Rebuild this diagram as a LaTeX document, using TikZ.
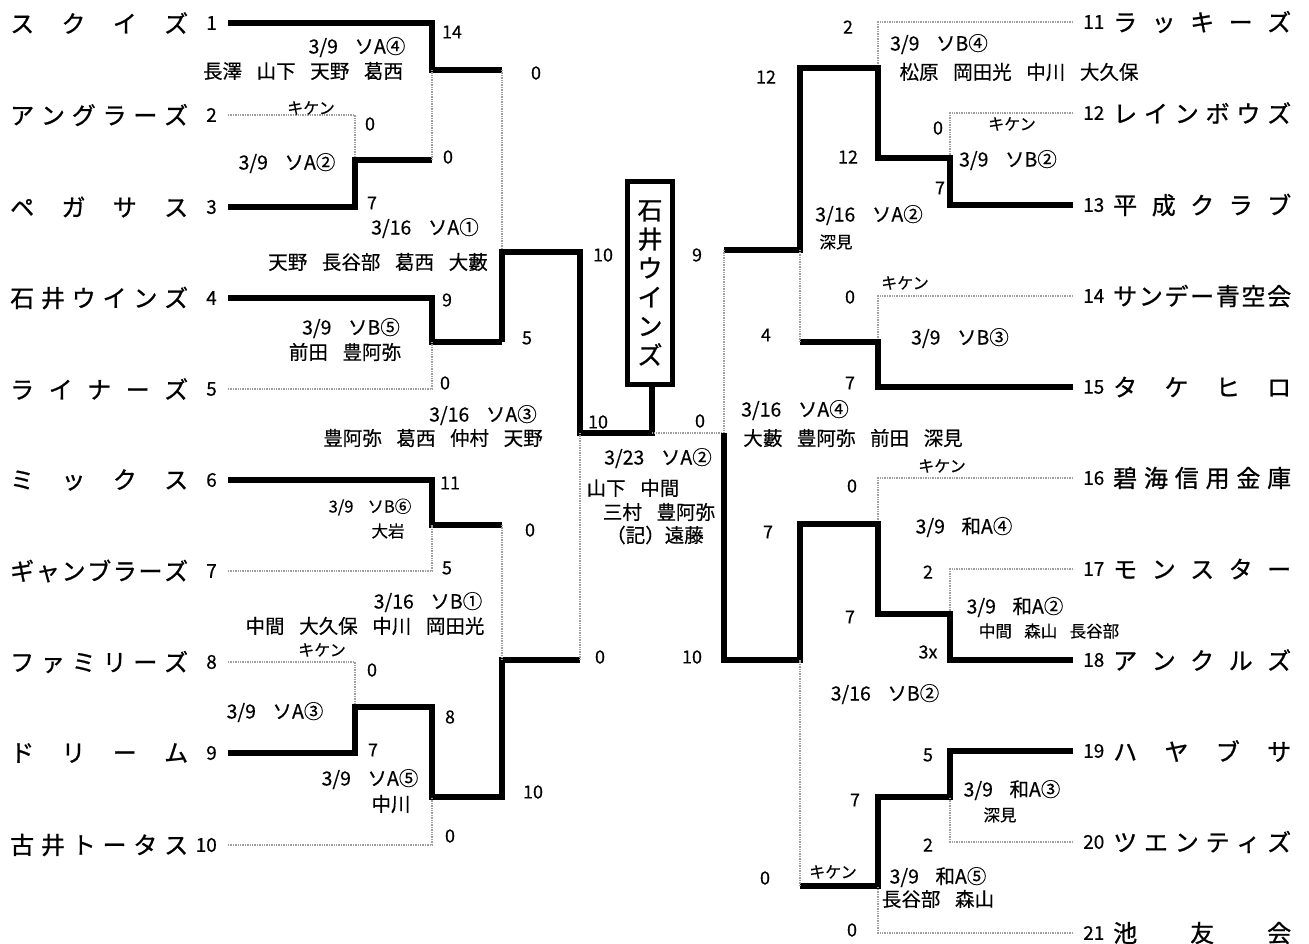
\documentclass[tikz,border=0pt]{standalone}
\usepackage{fontspec}
\setmainfont{Noto Sans CJK JP}[FakeBold=0.4]
\newfontfamily\teamfont{Noto Sans CJK JP}[FakeBold=0.9]
\usepackage{tikz}
\tikzset{
  win/.style      = {line width=5.5pt, black},
  lose/.style     = {line width=1.4pt, gray!75, densely dotted},
  tname/.style    = {inner sep=0pt, font=\teamfont\fontsize{24}{24}\selectfont},
  tnum/.style     = {inner sep=0pt, font=\fontsize{19}{19}\selectfont},
  score/.style    = {inner sep=0pt, font=\fontsize{18}{18}\selectfont},
  game/.style     = {inner sep=0pt, font=\fontsize{19.5}{19.5}\selectfont},
  gamesm/.style   = {inner sep=0pt, font=\fontsize{16.5}{16.5}\selectfont},
  kiken/.style    = {inner sep=0pt, font=\fontsize{16}{16}\selectfont},
  champbox/.style = {draw, line width=4.5pt, minimum width=45pt, minimum height=203pt,
                     inner sep=0pt, align=center, font=\teamfont\fontsize{25}{29}\selectfont}
}
\newcommand{\gp}{\hspace{0.75em}}
\newcommand{\dg}{\hspace{0.85em}}
\newcommand{\spread}[1]{\makebox[178pt]{#1}}

\begin{document}
\begin{tikzpicture}[x=1pt, y=-1pt]
  \useasboundingbox (0,0) rectangle (1309,943);

  % left teams
  \foreach \y/\n/\name in {23/1/{ス\hfill ク\hfill イ\hfill ズ},
      115/2/{ア\hfill ン\hfill グ\hfill ラ\hfill ー\hfill ズ},
      207/3/{ペ\hfill ガ\hfill サ\hfill ス},
      298/4/{石\hfill 井\hfill ウ\hfill イ\hfill ン\hfill ズ},
      389/5/{ラ\hfill イ\hfill ナ\hfill ー\hfill ズ},
      480/6/{ミ\hfill ッ\hfill ク\hfill ス},
      571/7/{ギ\hfill ャ\hfill ン\hfill ブ\hfill ラ\hfill ー\hfill ズ},
      662/8/{フ\hfill ァ\hfill ミ\hfill リ\hfill ー\hfill ズ},
      753/9/{ド\hfill リ\hfill ー\hfill ム},
      845/10/{古\hfill 井\hfill ト\hfill ー\hfill タ\hfill ス}} {
    \node[tname, anchor=west] (team\n) at (10,\y) {\spread{\name}};
    \node[tnum, anchor=east] (num\n) at (217,\y) {\n};
  }
  % right teams
  \foreach \y/\n/\name in {22/11/{ラ\hfill ッ\hfill キ\hfill ー\hfill ズ},
      113/12/{レ\hfill イ\hfill ン\hfill ボ\hfill ウ\hfill ズ},
      205/13/{平\hfill 成\hfill ク\hfill ラ\hfill ブ},
      296/14/{サ\hfill ン\hfill デ\hfill ー\hfill 青\hfill 空\hfill 会},
      387/15/{タ\hfill ケ\hfill ヒ\hfill ロ},
      478/16/{碧\hfill 海\hfill 信\hfill 用\hfill 金\hfill 庫},
      569/17/{モ\hfill ン\hfill ス\hfill タ\hfill ー},
      660/18/{ア\hfill ン\hfill ク\hfill ル\hfill ズ},
      751/19/{ハ\hfill ヤ\hfill ブ\hfill サ},
      842/20/{ツ\hfill エ\hfill ン\hfill テ\hfill ィ\hfill ズ},
      933/21/{池\hfill 友\hfill 会}} {
    \node[tnum, anchor=west] (num\n) at (1083,\y) {\n};
    \node[tname, anchor=west] (team\n) at (1113,\y) {\spread{\name}};
  }

  % champion
  \node[champbox] (champ) at (650,283) {石\\井\\ウ\\イ\\ン\\ズ};

  % left block, top
  \draw[win]  (228,23) -- (432,23) -- (432,70) -- (502,70);
  \draw[lose] (228,115) -- (355,115) -- (355,160);
  \draw[win]  (228,207) -- (355,207) -- (355,160) -- (432,160);
  \draw[lose] (432,160) -- (432,70);
  \draw[win]  (228,298) -- (432,298) -- (432,342) -- (502,342);
  \draw[lose] (228,389) -- (432,389) -- (432,342);
  \draw[lose] (502,70) -- (502,252);
  \draw[win]  (502,342) -- (502,252) -- (580,252) -- (580,433) -- (652,433) -- (champ.south -| 652,0);
  % left block, bottom
  \draw[win]  (228,480) -- (432,480) -- (432,525) -- (502,525);
  \draw[lose] (228,571) -- (432,571) -- (432,525);
  \draw[lose] (228,662) -- (355,662) -- (355,707);
  \draw[win]  (228,753) -- (355,753) -- (355,707) -- (432,707) -- (432,797) -- (502,797)
              -- (502,660) -- (580,660);
  \draw[lose] (228,845) -- (432,845) -- (432,797);
  \draw[lose] (502,525) -- (502,660);
  \draw[lose] (580,660) -- (580,433);

  % right block, top
  \draw[lose] (1073,22) -- (878,22) -- (878,68);
  \draw[lose] (1073,113) -- (950,113) -- (950,158);
  \draw[win]  (1073,205) -- (950,205) -- (950,158) -- (878,158) -- (878,68) -- (800,68)
              -- (800,250) -- (724,250);
  \draw[lose] (1073,296) -- (878,296) -- (878,342);
  \draw[win]  (1073,387) -- (878,387) -- (878,342) -- (800,342);
  \draw[lose] (800,342) -- (800,250);
  \draw[lose] (724,250) -- (724,433) -- (652,433);
  % right block, bottom
  \draw[lose] (1073,478) -- (878,478) -- (878,524);
  \draw[lose] (1073,569) -- (950,569) -- (950,614);
  \draw[win]  (1073,660) -- (950,660) -- (950,614) -- (878,614) -- (878,524) -- (800,524)
              -- (800,660) -- (724,660) -- (724,433);
  \draw[win]  (1073,751) -- (950,751) -- (950,797) -- (878,797) -- (878,886) -- (800,886);
  \draw[lose] (1073,842) -- (950,842) -- (950,797);
  \draw[lose] (1073,933) -- (878,933) -- (878,886);
  \draw[lose] (800,886) -- (800,660);

  % scores
  \foreach \x/\y/\s [count=\i] in {452/32/14, 370/124/0, 448/157/0, 372/203/7, 536/73/0,
      447/300/9, 527/338/5, 445/383/0, 603/255/10, 598/422/10, 450/483/11, 530/530/0,
      447/568/5, 372/670/0, 450/717/8, 373/750/7, 533/792/10, 450/836/0, 600/657/0,
      848/27/2, 766/77/12, 938/128/0, 848/157/12, 940/188/7, 697/255/9, 850/297/0,
      766/335/4, 850/383/7, 700/421/0, 852/486/0, 768/532/7, 928/572/2, 850/617/7,
      928/652/3x, 692/657/10, 928/755/5, 855/800/7, 928/845/2, 765/878/0, 852/930/0} {
    \node[score] (sc\i) at (\x,\y) {\s};
  }

  % games and umpires
  \foreach \x/\y/\t [count=\i] in {357/47/{3/9\dg ソA④}, 303/71/{長澤\gp 山下\gp 天野\gp 葛西},
      287/163/{3/9\dg ソA②}, 425/228/{3/16\dg ソA①}, 378/262/{天野\gp 長谷部\gp 葛西\gp 大藪},
      351/328/{3/9\dg ソB⑤}, 345/352/{前田\gp 豊阿弥}, 483/415/{3/16\dg ソA③},
      433/438/{豊阿弥\gp 葛西\gp 仲村\gp 天野}, 428/602/{3/16\dg ソB①},
      365/626/{中間\gp 大久保\gp 中川\gp 岡田光}, 275/712/{3/9\dg ソA③}, 370/779/{3/9\dg ソA⑤},
      391/804/{中川}, 658/458/{3/23\dg ソA②}, 633/488/{山下\gp 中間}, 659/512/{三村\gp 豊阿弥},
      655/535/{（記）遠藤}, 939/44/{3/9\dg ソB④}, 1019/72/{松原\gp 岡田光\gp 中川\gp 大久保},
      1008/160/{3/9\dg ソB②}, 869/215/{3/16\dg ソA②}, 960/338/{3/9\dg ソB③},
      795/410/{3/16\dg ソA④}, 853/438/{大藪\gp 豊阿弥\gp 前田\gp 深見}, 964/527/{3/9\dg 和A④},
      1015/607/{3/9\dg 和A②}, 885/694/{3/16\dg ソB②}, 1012/790/{3/9\dg 和A③},
      938/877/{3/9\dg 和A⑤}, 938/899/{長谷部\gp 森山}} {
    \node[game] (gm\i) at (\x,\y) {\t};
  }
  \foreach \x/\y/\t [count=\i] in {370/507/{3/9\dg ソB⑥}, 388/531/{大岩}, 836/242/{深見},
      1049/631/{中間\gp 森山\gp 長谷部}, 1000/815/{深見}} {
    \node[gamesm] (gs\i) at (\x,\y) {\t};
  }
  \foreach \x/\y [count=\i] in {311/108, 322/650, 1012/124, 905/283, 942/466, 833/872} {
    \node[kiken] (kk\i) at (\x,\y) {キケン};
  }
\end{tikzpicture}
\end{document}
